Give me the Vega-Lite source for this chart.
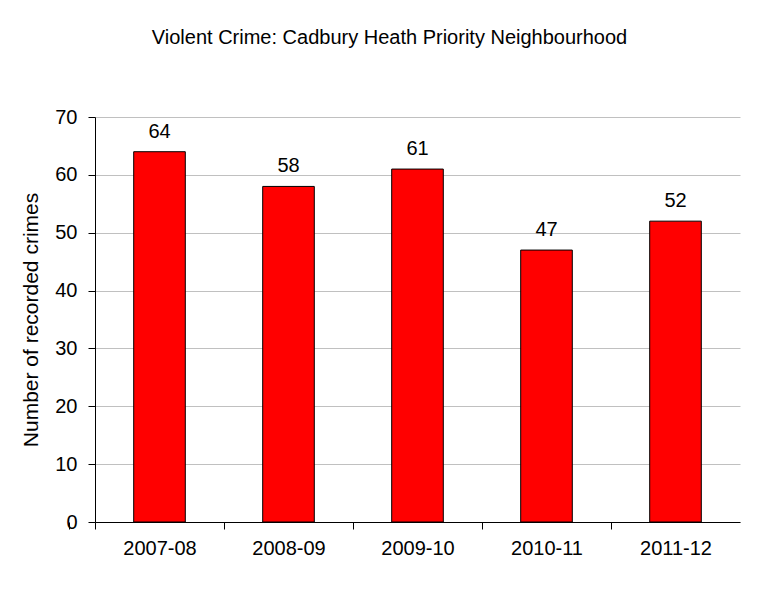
{
  "$schema": "https://vega.github.io/schema/vega-lite/v6.json",
  "autosize": {"type": "none"},
  "padding": {"left": 95, "top": 117, "right": 21, "bottom": 79},
  "width": 645,
  "height": 405,
  "background": "white",
  "title": {
    "text": "Violent Crime: Cadbury Heath Priority Neighbourhood",
    "font": "Liberation Sans",
    "fontSize": 20,
    "fontWeight": "normal",
    "color": "black",
    "anchor": "middle",
    "frame": "group",
    "dx": -28,
    "offset": 59
  },
  "data": {
    "values": [
      {"year": "2007-08", "crimes": 64},
      {"year": "2008-09", "crimes": 58},
      {"year": "2009-10", "crimes": 61},
      {"year": "2010-11", "crimes": 47},
      {"year": "2011-12", "crimes": 52}
    ]
  },
  "encoding": {
    "x": {
      "field": "year",
      "type": "nominal",
      "scale": {"paddingInner": 0.6, "paddingOuter": 0.3},
      "axis": {
        "title": null,
        "labelAngle": 0,
        "labelFont": "Liberation Sans",
        "labelFontSize": 20,
        "labelColor": "black",
        "labelPadding": 9,
        "tickOffset": -64.5,
        "labelOffset": 64.5,
        "tickExtra": true,
        "tickSize": 7,
        "tickColor": "black",
        "domainColor": "black",
        "grid": false
      }
    },
    "y": {
      "field": "crimes",
      "type": "quantitative",
      "scale": {"domain": [0, 70]},
      "axis": {
        "title": "Number of recorded crimes",
        "titleFont": "Liberation Sans",
        "titleFontSize": 21,
        "titleFontWeight": "normal",
        "titleColor": "black",
        "titlePadding": 13,
        "values": [0, 10, 20, 30, 40, 50, 60, 70],
        "labelFont": "Liberation Sans",
        "labelFontSize": 20,
        "labelColor": "black",
        "labelPadding": 11,
        "tickSize": 7,
        "tickColor": "black",
        "domainColor": "black",
        "gridColor": "#c0c0c0",
        "gridWidth": 1
      }
    }
  },
  "layer": [
    {
      "mark": {"type": "bar", "color": "#ff0000", "stroke": "black", "strokeWidth": 1}
    },
    {
      "mark": {"type": "text", "baseline": "bottom", "dy": -10, "font": "Liberation Sans", "fontSize": 20, "color": "black"},
      "encoding": {"text": {"field": "crimes", "type": "quantitative"}}
    }
  ],
  "config": {"view": {"stroke": null}}
}
